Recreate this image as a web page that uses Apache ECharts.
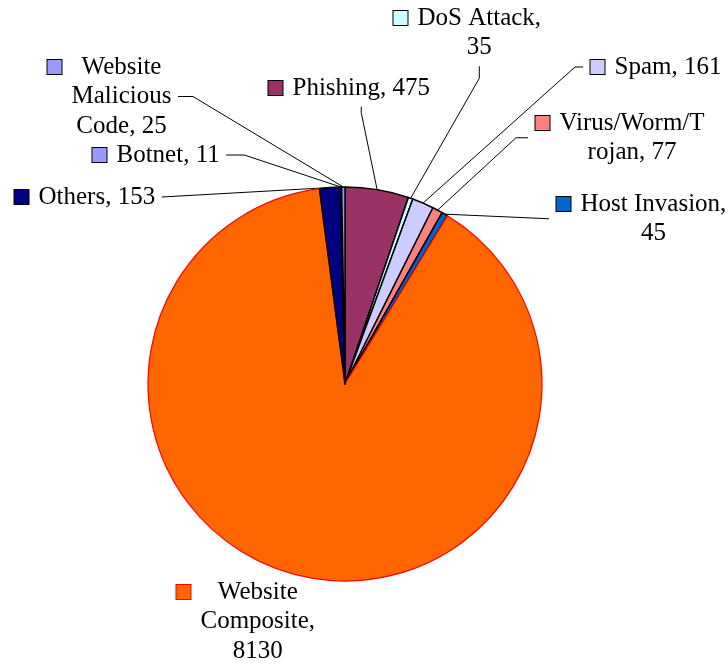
<!DOCTYPE html>
<html>
<head>
<meta charset="utf-8">
<script src="https://cdn.jsdelivr.net/npm/echarts@6/dist/echarts.min.js"></script>
<style>
  html, body { margin: 0; padding: 0; background: #ffffff; }
  #chart { width: 728px; height: 665px; }
</style>
</head>
<body>
<div id="chart"></div>
<script>
// Incident categories, clockwise from 12 o'clock
const categories = ['Phishing', 'DoS Attack', 'Spam', 'Virus/Worm/Trojan', 'Host Invasion',
  'Website Composite', 'Others', 'Botnet', 'Website Malicious Code'];
const values = [475, 35, 161, 77, 45, 8130, 153, 11, 25];
// Printed label text; {v} is replaced by the value
const labelTemplates = ['Phishing, {v}', 'DoS Attack,\n{v}', 'Spam, {v}', 'Virus/Worm/T\nrojan, {v}',
  'Host Invasion,\n{v}', 'Website\nComposite,\n{v}', 'Others, {v}', 'Botnet, {v}', 'Website\nMalicious\nCode, {v}'];

const fills = ['#993366', '#CCFFFF', '#CCCCFF', '#FF8080', '#0066CC', '#FF6600', '#000080', '#9999FF', '#9999FF'];
const strokes = ['#000000', '#000000', '#000000', '#000000', '#000000', '#FF0000', '#000000', '#000000', '#000000'];

// Where each label sits: left edge of its key square, centre line of first text row,
// and how its leader line attaches to the text block.
const labelPlacement = [
  { left: 268, midY: 88,  attach: 'bottom', seg: 6 },
  { left: 393, midY: 18,  attach: 'bottom', seg: 12 },
  { left: 590, midY: 67,  attach: 'left',   seg: 8 },
  { left: 535, midY: 123, attach: 'left',   seg: 12 },
  { left: 556, midY: 204, attach: 'left',   seg: 0 },
  { left: 176, midY: 592, attach: 'none',   seg: 0 },
  { left: 14,  midY: 197, attach: 'right',  seg: 0,  row: 0 },
  { left: 92,  midY: 155, attach: 'right',  seg: 18, row: 0 },
  { left: 47,  midY: 67,  attach: 'right',  seg: 15, row: 1 }
];

const FONT = 'Liberation Serif';
const FONT_SIZE = 25;
const LINE_H = 29.5;
const SQ = 14;      // key square size
const GAP = 10;     // space between key square and text block

const measure = document.createElement('canvas').getContext('2d');
measure.font = FONT_SIZE + 'px "' + FONT + '"';

const pieData = categories.map(function (name, i) {
  const lines = labelTemplates[i].replace('{v}', values[i]).split('\n');
  const widths = lines.map(function (s) { return measure.measureText(s).width; });
  const blockW = Math.max.apply(null, widths);
  const g = (blockW - widths[0]) / 2 + GAP;
  const body = lines.map(function (s, k) {
    return k === 0 ? '{sq|}{g|}{t|' + s + '}{p|}' : '{t|' + s + '}';
  }).join('\n');
  return {
    name: name,
    value: values[i],
    itemStyle: { color: fills[i], borderColor: strokes[i], borderWidth: i === 5 ? 1.2 : 1.5 },
    label: {
      formatter: body,
      fontFamily: FONT,
      rich: {
        t: { fontFamily: FONT, fontSize: FONT_SIZE, lineHeight: LINE_H, color: '#000000' },
        sq: { width: SQ, height: SQ, backgroundColor: fills[i], borderColor: strokes[i], borderWidth: 1 },
        g: { width: g },
        p: { width: g + SQ }
      }
    },
    labelLine: { show: labelPlacement[i].attach !== 'none' }
  };
});

const chart = echarts.init(document.getElementById('chart'), null, { renderer: 'canvas' });
chart.setOption({
  backgroundColor: '#ffffff',
  animation: false,
  textStyle: { fontFamily: FONT },
  series: [{
    type: 'pie',
    center: [345, 384],
    radius: 197,
    startAngle: 90,
    clockwise: true,
    avoidLabelOverlap: false,
    data: pieData,
    label: {
      show: true,
      position: 'outside',
      fontFamily: FONT,
      fontSize: FONT_SIZE,
      lineHeight: LINE_H,
      color: '#000000'
    },
    labelLine: {
      show: true,
      lineStyle: { color: '#000000', width: 1 }
    },
    emphasis: { disabled: true },
    labelLayout: function (p) {
      const L = labelPlacement[p.dataIndex];
      const w = p.labelRect.width;
      const h = p.labelRect.height;
      const cx = L.left + w / 2;
      const top = L.midY - LINE_H / 2;
      const out = { x: cx, y: top, align: 'center', verticalAlign: 'top' };
      if (L.attach !== 'none' && p.labelLinePoints) {
        const start = p.labelLinePoints[0];
        let end, elbow;
        if (L.attach === 'right') {
          end = [L.left + w - SQ - GAP + 6, top + LINE_H * (L.row + 0.5)];
          elbow = [end[0] + L.seg, end[1]];
        } else if (L.attach === 'left') {
          end = [L.left - 7, top + h / 2];
          elbow = [end[0] - L.seg, end[1]];
        } else {
          end = [cx, top + h + 4];
          elbow = [cx, end[1] + L.seg];
        }
        out.labelLinePoints = [start, elbow, end];
      }
      return out;
    }
  }]
});
</script>
</body>
</html>
